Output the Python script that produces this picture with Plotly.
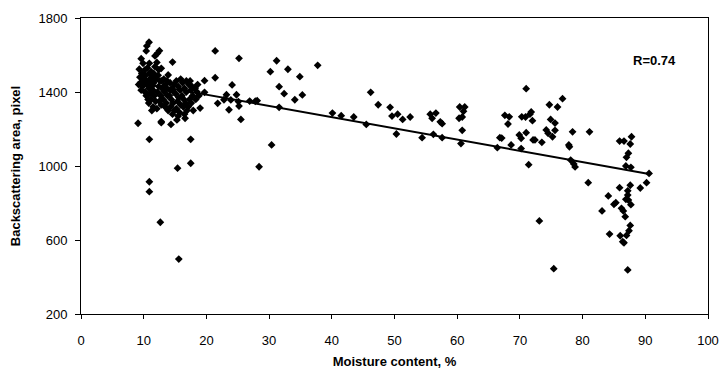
import plotly.graph_objects as go

# Moisture content (%) and backscattering area (pixel)
cluster_x = [9.3, 9.6, 9.4, 9.5, 9.8, 9.9, 9.7, 10.0, 9.2, 9.6,
             10.4, 10.5, 10.85, 10.9, 10.2, 10.3, 10.5, 10.6, 10.8, 10.2, 10.4, 10.7, 10.9, 10.6, 11.0, 10.8, 11.0, 10.3,
             11.8, 11.8, 11.2, 11.4, 11.6, 11.3, 11.5, 11.7, 11.2, 11.9, 11.5, 11.1, 11.6, 11.9, 11.3,
             12.2, 12.5, 12.8, 12.1, 12.3, 12.6, 12.4, 12.9, 12.2, 12.7, 12.5, 12.8, 12.1, 12.9, 12.4,
             13.9, 13.2, 13.5, 13.7, 13.3, 13.8, 13.1, 13.6, 13.4, 13.9, 13.2, 13.7,
             14.6, 14.2, 14.5, 14.8, 14.1, 14.4, 14.7, 14.3, 14.9, 14.6, 14.2, 14.9,
             15.2, 15.5, 15.8, 15.1, 15.6, 15.4, 15.9, 15.2, 15.7, 15.5, 15.9,
             16.2, 16.5, 16.8, 16.1, 16.4, 16.7, 16.3, 16.9, 16.5, 16.8,
             17.2, 17.5, 17.8, 17.3, 17.6, 17.1, 17.9, 17.4, 17.7,
             18.2, 18.5, 18.8, 18.3, 18.6]
cluster_y = [1523, 1580, 1480, 1450, 1430, 1555, 1500, 1470, 1440, 1410,
             1622, 1649, 1669, 1555, 1520, 1490, 1460, 1440, 1420, 1400, 1380, 1360, 1500, 1530, 1470, 1340, 1390, 1450,
             1595, 1537, 1510, 1480, 1450, 1430, 1410, 1380, 1360, 1350, 1320, 1450, 1500, 1470, 1300,
             1609, 1623, 1528, 1560, 1490, 1460, 1430, 1420, 1400, 1380, 1350, 1330, 1310, 1460, 1520,
             1492, 1470, 1440, 1420, 1400, 1380, 1360, 1340, 1320, 1300, 1430, 1460,
             1562, 1450, 1420, 1400, 1380, 1360, 1340, 1320, 1300, 1280, 1410, 1440,
             1460, 1430, 1410, 1390, 1370, 1350, 1330, 1310, 1290, 1270, 1470,
             1450, 1420, 1400, 1380, 1360, 1340, 1320, 1300, 1280, 1460,
             1440, 1410, 1380, 1360, 1340, 1320, 1300, 1460, 1430,
             1420, 1400, 1380, 1360, 1440]

low_x = [9.1, 12.8, 14.35, 10.9, 17.5, 15.4, 17.5, 10.9, 10.9, 12.65, 15.6, 15.3, 16.6, 12.8]
low_y = [1231, 1234, 1225, 1144, 1144, 988, 1015, 915, 861, 696, 497, 1249, 1258, 1240]

mid_x = [21.4, 25.2, 19.7, 21.4, 24.1, 19.7, 19.0, 21.8, 23.2, 24.8, 22.8, 23.9, 23.6, 25.1, 25.2, 25.5,
         26.9, 27.8, 28.1, 30.2, 31.2, 33.0, 34.9, 37.75, 31.6, 32.4, 34.1, 35.3, 31.6, 30.4, 28.4,
         40.1, 41.5, 43.5, 45.5, 46.2, 47.4, 49.3, 49.6, 50.3, 50.5, 51.3, 52.5, 54.4, 55.7, 56.0,
         56.6, 56.2, 57.3, 57.6, 57.6, 60.4, 61.2, 61.0, 60.3, 60.8, 60.8, 60.6, 66.4, 66.8]
mid_y = [1622, 1582, 1461, 1477, 1438, 1398, 1313, 1339, 1385, 1385, 1358, 1357, 1304, 1348, 1324, 1252,
         1351, 1350, 1353, 1510, 1569, 1523, 1483, 1544, 1429, 1391, 1358, 1384, 1317, 1114, 996,
         1286, 1272, 1265, 1225, 1398, 1331, 1317, 1270, 1173, 1280, 1252, 1265, 1153, 1280, 1258,
         1286, 1171, 1239, 1229, 1153, 1319, 1319, 1296, 1258, 1265, 1193, 1121, 1099, 1153]

high_x = [71.0, 76.8, 74.7, 76.0, 67.6, 68.3, 68.1, 70.3, 70.9, 71.6, 71.8, 72.0, 74.9, 75.6, 71.0,
          69.9, 70.2, 74.2, 74.5, 75.6, 75.2, 72.1, 72.4, 73.5, 78.4, 81.1, 67.1, 68.6, 70.2, 71.4,
          77.8, 77.9, 78.1, 78.6, 78.8, 80.9, 73.1, 75.4,
          85.9, 86.6, 87.8, 87.6, 87.3, 87.0, 86.9, 87.7, 90.6, 90.2, 89.2, 87.6, 85.9, 87.2, 87.2,
          84.1, 86.9, 87.3, 87.7, 85.0, 85.3, 86.2, 86.5, 86.8, 83.1, 87.6, 87.4, 87.0, 84.3, 86.0,
          86.4, 86.6, 87.2]
high_y = [1418, 1364, 1331, 1319, 1274, 1266, 1227, 1266, 1265, 1280, 1292, 1245, 1252, 1232, 1180,
          1168, 1150, 1195, 1177, 1193, 1158, 1141, 1141, 1128, 1185, 1185, 1151, 1114, 1094, 1007,
          1114, 1104, 1032, 1011, 995, 910, 703, 445,
          1135, 1135, 1158, 1119, 1069, 1047, 1000, 993, 960, 910, 881, 896, 883, 866, 843,
          838, 820, 816, 791, 793, 802, 771, 757, 726, 757, 679, 650, 625, 632, 623,
          591, 585, 438]

# Linear trend
trend_x = [9.0, 90.6]
trend_y = [1452, 957]

x_ticks = [0, 10, 20, 30, 40, 50, 60, 70, 80, 90, 100]
y_ticks = [200, 600, 1000, 1400, 1800]

all_x = cluster_x + low_x + mid_x + high_x
all_y = cluster_y + low_y + mid_y + high_y

fig = go.Figure()
fig.add_trace(go.Scatter(x=all_x, y=all_y, mode="markers",
                         marker=dict(symbol="diamond", size=6, color="black"),
                         showlegend=False))
fig.add_trace(go.Scatter(x=trend_x, y=trend_y, mode="lines",
                         line=dict(color="black", width=2), showlegend=False))

font = "Arial, Liberation Sans, sans-serif"
fig.update_layout(
    width=721, height=373,
    margin=dict(l=81, r=13, t=18, b=59),
    paper_bgcolor="white", plot_bgcolor="white",
    font=dict(family=font, size=13, color="black"),
    annotations=[dict(x=91.5, y=1568, xref="x", yref="y", text="<b>R=0.74</b>",
                      showarrow=False, font=dict(family=font, size=13, color="black"))],
)
fig.update_xaxes(range=[0, 100], tickvals=x_ticks, ticks="outside", ticklen=4,
                 tickcolor="black", showgrid=False, zeroline=False, automargin=False,
                 showline=True, linecolor="black", linewidth=1, mirror=True,
                 ticklabelstandoff=10, tickfont=dict(family=font, size=13),
                 title=dict(text="<b>Moisture content, %</b>", standoff=10,
                            font=dict(family=font, size=13)))
fig.update_yaxes(range=[200, 1800], tickvals=y_ticks, ticks="outside", ticklen=5,
                 tickcolor="black", showgrid=False, zeroline=False, automargin=False,
                 showline=True, linecolor="black", linewidth=1, mirror=True,
                 ticklabelstandoff=5, tickfont=dict(family=font, size=13),
                 title=dict(text="<b>Backscattering area, pixel</b>", standoff=14,
                            font=dict(family=font, size=13)))

fig.write_html("out.html")
